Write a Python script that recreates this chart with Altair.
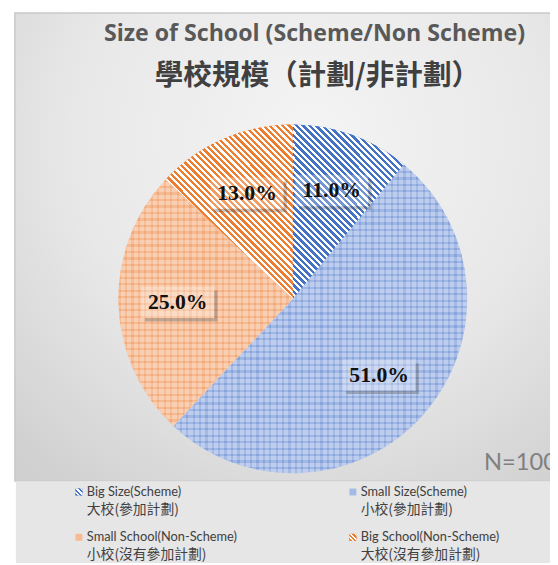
import math
import altair as alt
import pandas as pd

# ---- data ----
names_en = ["Big Size(Scheme)", "Small Size(Scheme)", "Small School(Non-Scheme)", "Big School(Non-Scheme)"]
names_zh = ["大校(參加計劃)", "小校(參加計劃)", "小校(沒有參加計劃)", "大校(沒有參加計劃)"]
shares = [11, 51, 25, 13]
title_en = "Size of School (Scheme/Non Scheme)"
title_zh = "學校規模（計劃/非計劃）"
note = "N=100"

df = pd.DataFrame({
    "order": list(range(len(shares))),
    "en": names_en,
    "zh": names_zh,
    "value": shares,
})

BLUE, ORANGE = "#4472c4", "#ed7d31"
fills = ["#4472c4", "#a3b9e6", "#f6bb94", "#ed7d31"]

W = 354
PAD = {"left": 112, "top": 114, "right": 84, "bottom": 89}


def stripes(color, n, x1, y1, x2, y2, bg="white", frac=0.5):
    stops = []
    for i in range(n):
        a = i / n
        b = (i + frac) / n
        c = (i + 1) / n
        stops += [
            {"offset": a, "color": color},
            {"offset": b, "color": color},
            {"offset": b, "color": bg},
            {"offset": c, "color": bg},
        ]
    return alt.LinearGradient(gradient="linear", x1=x1, y1=y1, x2=x2, y2=y2, stops=stops)


def diag(color, period_n, gx):
    # "\" stripes covering the whole bounding box; gx = bbox width / height
    d2 = gx * gx + 1
    sx, sy = -gx / d2, 1 / d2
    ex, ey = gx * gx / d2, -gx / d2
    n = int(round(period_n * (1 + gx) / d2))
    return stripes(color, n, sx, sy, ex, ey, frac=0.5)


base = alt.Chart(df).transform_joinaggregate(
    total="sum(value)"
).transform_window(
    cum="sum(value)", sort=[alt.SortField("order")]
).transform_calculate(
    t0="(datum.cum - datum.value) / datum.total",
    t1="datum.cum / datum.total",
    mid="PI * (2 * datum.cum - datum.value) / datum.total",
    lx="0.66 * sin(datum.mid)",
    ly="0.66 * cos(datum.mid)",
    pct="format(datum.value / datum.total, '.1%')",
    lgcol="datum.order % 2",
    lgrow="floor(datum.order / 2)",
)

theta = alt.Theta("t0:Q", scale=alt.Scale(domain=[0, 1], range=[0, 2 * math.pi]))
theta2 = alt.Theta2("t1:Q")
color = alt.Color("en:N", scale=alt.Scale(domain=names_en, range=fills), legend=None)

layers = []

# background panel
bgdata = alt.Data(values=[{"k": 1}])
panel = alt.Chart(bgdata).mark_rect(
    color=alt.RadialGradient(
        gradient="radial", x1=0.55, y1=0.3, r1=0, x2=0.55, y2=0.3, r2=0.8,
        stops=[alt.GradientStop(offset=0, color="#f4f4f4"),
               alt.GradientStop(offset=0.55, color="#e8e8e8"),
               alt.GradientStop(offset=1, color="#d0d0d0")],
    ),
    stroke="#c9c9c9", strokeWidth=1.5,
).encode(x=alt.value(-105), x2=alt.value(440), y=alt.value(-113), y2=alt.value(362))
legend_bg = alt.Chart(bgdata).mark_rect(color="#e6e6e6").encode(
    x=alt.value(-104), x2=alt.value(440), y=alt.value(362), y2=alt.value(445)
)
layers += [panel, legend_bg]

# pie base colours
layers.append(base.mark_arc(stroke=None).encode(theta=theta, theta2=theta2, color=color))

# striped slices (diagonal "\" stripes)
for i, col, n, gx in [(0, BLUE, 38, 0.64), (3, ORANGE, 42, 0.73)]:
    layers.append(
        base.transform_filter(alt.datum.order == i).mark_arc(
            fill=diag(col, n, gx), stroke=None
        ).encode(theta=theta, theta2=theta2)
    )

# checkered slices
for i, col, nx, ny in [(1, BLUE, 46, 48), (2, ORANGE, 27, 38)]:
    layers.append(
        base.transform_filter(alt.datum.order == i).mark_arc(
            fill=stripes(col, nx, 0, 0, 1, 0, bg="white", frac=0.35),
            fillOpacity=0.16, stroke=None,
        ).encode(theta=theta, theta2=theta2)
    )
    layers.append(
        base.transform_filter(alt.datum.order == i).mark_arc(
            fill=stripes(col, ny, 0, 0, 0, 1, bg="white", frac=0.35),
            fillOpacity=0.16, stroke=None,
        ).encode(theta=theta, theta2=theta2)
    )

# data labels
xs = alt.X("lx:Q", scale=alt.Scale(domain=[-1, 1]), axis=None)
ys = alt.Y("ly:Q", scale=alt.Scale(domain=[-1, 1]), axis=None)

shadow = base.mark_point(
    shape="M1,-0.32H1.09V0.52H-0.9V0.43H1Z", filled=True, fill="#555555",
    fillOpacity=0.35, size=74 * 74, stroke=None,
).encode(x=xs, y=ys)
box = base.mark_point(
    shape="M-1,-0.43H1V0.43H-1Z", filled=True, fill="white",
    fillOpacity=0.25, size=74 * 74, stroke=None,
).encode(x=xs, y=ys)
labels = base.mark_text(
    font="Liberation Serif", fontWeight="bold", fontSize=22, color="#111111",
    baseline="middle", align="center",
).encode(x=xs, y=ys, text="pct:N")
layers += [shadow, box, labels]

# custom legend (2 columns x 2 rows)
lgx = alt.X("lgcol:Q", scale=alt.Scale(domain=[0, 1], range=[-32, 246]), axis=None)
lgy = alt.Y("lgrow:Q", scale=alt.Scale(domain=[0, 1], range=[373, 419]), axis=None)
layers.append(
    base.mark_point(shape="square", filled=True, size=49, xOffset=-8, stroke=None, opacity=1)
    .encode(x=lgx, y=lgy, color=color)
)
for i, col in [(0, BLUE), (3, ORANGE)]:
    layers.append(
        base.transform_filter(alt.datum.order == i)
        .mark_point(shape="square", filled=True, size=49, xOffset=-8, stroke=None, opacity=1,
                    fill=stripes(col, 3, 0, 1, 1, 0))
        .encode(x=lgx, y=lgy)
    )
layers.append(
    base.mark_text(font="Lato", fontSize=13, color="#404040", align="left", baseline="middle")
    .encode(x=lgx, y=lgy, text="en:N")
)
layers.append(
    base.mark_text(font="Noto Sans CJK TC", fontSize=14, color="#404040", align="left",
                   baseline="middle", dy=18)
    .encode(x=lgx, y=lgy, text="zh:N")
)

# titles and note
layers.append(
    alt.Chart(bgdata).mark_text(
        text=title_en, font="Open Sans", fontSize=23.5, fontWeight="bold", color="#595959",
        align="center", baseline="alphabetic",
    ).encode(x=alt.value(199), y=alt.value(-85))
)
layers.append(
    alt.Chart(bgdata).mark_text(
        text=title_zh, font="Noto Sans CJK TC", fontSize=29, fontWeight="bold", color="#404040",
        align="center", baseline="alphabetic",
    ).encode(x=alt.value(202), y=alt.value(-40))
)
layers.append(
    alt.Chart(bgdata).mark_text(
        text=note, font="Lato", fontSize=24, color="#808080", align="left", baseline="alphabetic"
    ).encode(x=alt.value(371), y=alt.value(351))
)

chart = alt.layer(*layers).resolve_scale(
    x="independent", y="independent"
).properties(
    width=W,
    height=W,
    padding=PAD,
    autosize="none",
    background="white",
).configure_view(stroke=None)

chart.save("out.html", embed_options={"renderer": "svg", "actions": False})
